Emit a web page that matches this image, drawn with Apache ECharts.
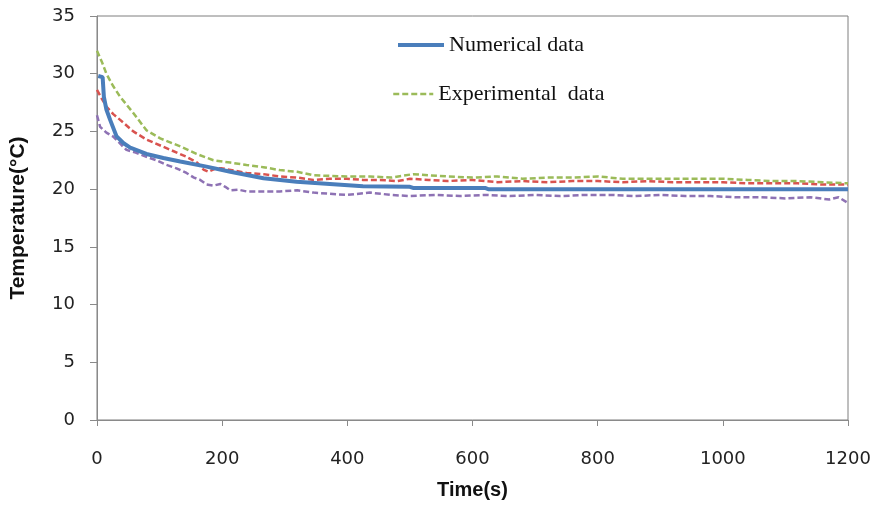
<!DOCTYPE html>
<html>
<head>
<meta charset="utf-8">
<script src="https://cdn.jsdelivr.net/npm/echarts@6/dist/echarts.min.js"></script>
<style>
  html, body { margin: 0; padding: 0; background: #fff; }
  #chart { width: 876px; height: 506px; }
</style>
</head>
<body>
<div id="chart"></div>
<script>
// time (s) / temperature (°C) pairs
let numericalTime = [2, 9, 11, 15, 21, 31, 42, 53, 79, 106, 133, 175, 213, 266, 319, 372, 425, 500, 505, 620, 625, 1200];
let numericalTemp = [29.8, 29.7, 28.0, 26.9, 26.0, 24.6, 24.0, 23.6, 23.05, 22.7, 22.4, 21.95, 21.5, 20.95, 20.65, 20.45, 20.25, 20.2, 20.1, 20.1, 20.0, 20.0];

let greenTime = [0, 8, 15, 25, 37, 58, 79, 101, 133, 159, 186, 213, 239, 266, 292, 320, 346, 372, 399, 436, 470, 505, 530, 560, 600, 640, 680, 720, 760, 800, 840, 880, 920, 960, 1000, 1040, 1080, 1120, 1160, 1200];
let greenTemp = [32.0, 31.0, 30.0, 29.0, 28.0, 26.6, 25.1, 24.4, 23.7, 23.05, 22.5, 22.3, 22.1, 21.9, 21.65, 21.5, 21.2, 21.15, 21.1, 21.1, 21.0, 21.3, 21.2, 21.1, 21.0, 21.1, 20.9, 21.0, 21.0, 21.1, 20.9, 20.9, 20.9, 20.9, 20.9, 20.8, 20.7, 20.7, 20.6, 20.5];

let redTime = [0, 8, 15, 26, 37, 58, 79, 111, 143, 160, 170, 178, 190, 200, 239, 266, 292, 320, 346, 372, 399, 425, 452, 480, 500, 530, 560, 600, 640, 680, 720, 760, 800, 840, 880, 920, 960, 1000, 1040, 1080, 1120, 1160, 1200];
let redTemp = [28.6, 27.8, 27.15, 26.5, 26.0, 25.0, 24.3, 23.55, 22.8, 22.3, 21.7, 21.5, 21.8, 21.8, 21.4, 21.3, 21.1, 21.0, 20.8, 20.9, 20.9, 20.8, 20.8, 20.7, 20.9, 20.8, 20.7, 20.8, 20.6, 20.7, 20.6, 20.7, 20.7, 20.6, 20.7, 20.6, 20.6, 20.6, 20.5, 20.5, 20.5, 20.4, 20.4];

let purpleTime = [0, 5, 15, 26, 36, 47, 60, 79, 95, 111, 127, 143, 155, 165, 175, 186, 197, 205, 213, 226, 239, 266, 292, 320, 346, 372, 399, 436, 470, 500, 540, 580, 620, 660, 700, 740, 780, 820, 860, 900, 940, 980, 1020, 1060, 1100, 1140, 1170, 1185, 1200];
let purpleTemp = [26.4, 25.4, 24.9, 24.55, 24.0, 23.4, 23.2, 22.8, 22.5, 22.1, 21.8, 21.4, 21.0, 20.8, 20.4, 20.3, 20.45, 20.2, 19.9, 19.95, 19.8, 19.8, 19.8, 19.9, 19.7, 19.6, 19.5, 19.7, 19.5, 19.4, 19.5, 19.4, 19.5, 19.4, 19.5, 19.4, 19.5, 19.5, 19.4, 19.5, 19.4, 19.4, 19.3, 19.3, 19.2, 19.3, 19.1, 19.3, 18.8];

let xTicks = [0, 200, 400, 600, 800, 1000, 1200];
let yTicks = [0, 5, 10, 15, 20, 25, 30, 35];

let pairs = (t, v) => t.map((x, i) => [x, v[i]]);

let chart = echarts.init(document.getElementById("chart"));

let tickFont = {
  color: "#222222",
  fontFamily: "DejaVu Sans",
  fontSize: 18,
};

let legendText = {
  fontFamily: "Liberation Serif",
  fontSize: 22,
  color: "#111111",
};

let dashed = (color) => ({
  color: color,
  width: 2.5,
  type: [6, 3],
});

let option = {
  animation: false,
  grid: {
    left: 97,
    right: 28,
    top: 16,
    bottom: 86,
    show: true,
    borderColor: "#7f7f7f",
    borderWidth: 1,
  },
  legend: [
    {
      data: ["Numerical data"],
      left: 391,
      top: 29,
      itemWidth: 46,
      itemHeight: 14,
      itemStyle: { opacity: 0 },
      lineStyle: { width: 4 },
      textStyle: legendText,
    },
    {
      data: ["Experimental data"],
      formatter: () => "Experimental  data",
      left: 387,
      top: 78,
      itemWidth: 40,
      itemHeight: 14,
      itemStyle: { opacity: 0 },
      lineStyle: { width: 2.5 },
      textStyle: legendText,
    },
  ],
  xAxis: {
    type: "value",
    min: 0,
    max: 1200,
    interval: 200,
    name: "Time(s)",
    nameLocation: "middle",
    nameGap: 60,
    nameTextStyle: {
      fontFamily: "Liberation Sans",
      fontWeight: "bold",
      fontSize: 20,
      color: "#111111",
    },
    axisLine: { lineStyle: { color: "#8a8a8a", width: 1 } },
    axisTick: { show: true, length: 6, lineStyle: { color: "#8a8a8a" } },
    axisLabel: Object.assign({ margin: 30, formatter: (v) => String(v) }, tickFont),
    splitLine: { show: false },
  },
  yAxis: {
    type: "value",
    min: 0,
    max: 35,
    interval: 5,
    name: "Temperature(°C)",
    nameLocation: "middle",
    nameGap: 68,
    nameTextStyle: {
      fontFamily: "Liberation Sans",
      fontWeight: "bold",
      fontSize: 21,
      color: "#111111",
    },
    axisLine: { show: true, lineStyle: { color: "#8a8a8a", width: 1 } },
    axisTick: { show: true, length: 7, lineStyle: { color: "#8a8a8a" } },
    axisLabel: Object.assign({ margin: 22 }, tickFont),
    splitLine: { show: false },
  },
  series: [
    {
      name: "Experimental data 2",
      type: "line",
      data: pairs(redTime, redTemp),
      symbol: "none",
      lineStyle: dashed("#d9534f"),
      itemStyle: { color: "#d9534f" },
    },
    {
      name: "Experimental data 3",
      type: "line",
      data: pairs(purpleTime, purpleTemp),
      symbol: "none",
      lineStyle: dashed("#8e72b4"),
      itemStyle: { color: "#8e72b4" },
    },
    {
      name: "Experimental data",
      type: "line",
      data: pairs(greenTime, greenTemp),
      symbol: "none",
      lineStyle: dashed("#9bbb59"),
      itemStyle: { color: "#9bbb59" },
    },
    {
      name: "Numerical data",
      type: "line",
      data: pairs(numericalTime, numericalTemp),
      symbol: "none",
      lineStyle: { color: "#4a7ebb", width: 4 },
      itemStyle: { color: "#4a7ebb" },
    },
  ],
};

chart.setOption(option);
</script>
</body>
</html>
